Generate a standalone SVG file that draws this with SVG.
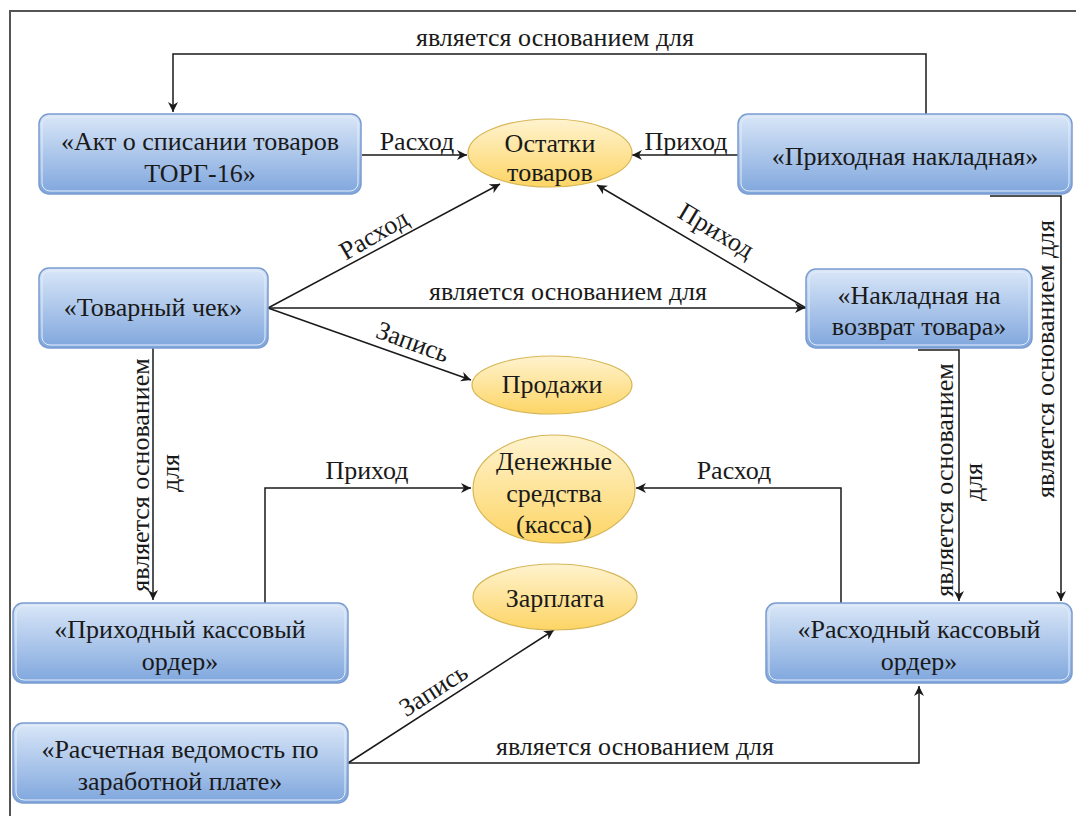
<svg xmlns="http://www.w3.org/2000/svg" width="1076" height="816" viewBox="0 0 1076 816">
<style>
.bo{fill:url(#bg);stroke:#7a9cd0;stroke-width:1.5}
.bi{fill:none;stroke:#e4edf9;stroke-width:1}
.el{fill:url(#yg);stroke:#d6b656;stroke-width:1.2}
.cn{stroke:#1a1a1a;stroke-width:1.5;fill:none}
</style>
<defs>
<linearGradient id="bg" x1="0" y1="0" x2="0" y2="1">
<stop offset="0" stop-color="#dae7f8"/>
<stop offset="1" stop-color="#7fa6dd"/>
</linearGradient>
<linearGradient id="yg" x1="0" y1="0" x2="0" y2="1">
<stop offset="0" stop-color="#fff3cf"/>
<stop offset="1" stop-color="#fdd565"/>
</linearGradient>
<marker id="a" viewBox="0 0 10 10" refX="10" refY="5" markerWidth="10" markerHeight="10" markerUnits="userSpaceOnUse" orient="auto">
<path d="M0,0 L10,5 L0,10 L3,5 Z" fill="#1a1a1a"/>
</marker>
</defs>
<rect width="1076" height="816" fill="#fff"/>
<path d="M10,816 V11 H1076" fill="none" stroke="#555" stroke-width="2"/>

<g id="connectors">
<g class="cn">
<path d="M926,114 V54 H173 V112" marker-end="url(#a)"/>
<path d="M362,155 H467" marker-end="url(#a)"/>
<path d="M738,155 H632" marker-end="url(#a)"/>
<path d="M268,308 L500,184" marker-end="url(#a)"/>
<path d="M268,308 H805" marker-end="url(#a)"/>
<path d="M268,308 L471,380" marker-end="url(#a)"/>
<path d="M806,308 L597,185" marker-end="url(#a)"/>
<path d="M153,348 V600" marker-end="url(#a)"/>
<path d="M990,196 H1061 V601" marker-end="url(#a)"/>
<path d="M918,350 H959 V601" marker-end="url(#a)"/>
<path d="M265,603 V488 H471" marker-end="url(#a)"/>
<path d="M841,603 V488 H636" marker-end="url(#a)"/>
<path d="M348,763 L554,630" marker-end="url(#a)"/>
<path d="M348,763 H919 V686" marker-end="url(#a)"/>
</g>
<g fill="#1a1a1a" text-anchor="middle">
<text font-family="Liberation Serif, serif" font-size="26" x="555" y="46">является основанием для</text>
<text font-family="Liberation Serif, serif" font-size="26" x="417" y="150">Расход</text>
<text font-family="Liberation Serif, serif" font-size="26" x="686" y="150">Приход</text>
<text font-family="Liberation Serif, serif" font-size="26" x="568" y="300">является основанием для</text>
<text font-family="Liberation Serif, serif" font-size="26" transform="translate(378,242) rotate(-30)">Расход</text>
<text font-family="Liberation Serif, serif" font-size="26" transform="translate(712,238) rotate(31)">Приход</text>
<text font-family="Liberation Serif, serif" font-size="26" transform="translate(410,350) rotate(20)">Запись</text>
<text font-family="Liberation Serif, serif" font-size="26" x="367" y="479">Приход</text>
<text font-family="Liberation Serif, serif" font-size="26" x="734" y="479">Расход</text>
<text font-family="Liberation Serif, serif" font-size="26" transform="translate(438,697) rotate(-33)">Запись</text>
<text font-family="Liberation Serif, serif" font-size="26" x="635" y="755">является основанием для</text>
<text font-family="Liberation Serif, serif" font-size="26" transform="translate(149,475) rotate(-90)">является основанием</text>
<text font-family="Liberation Serif, serif" font-size="26" transform="translate(179,473) rotate(-90)">для</text>
<text font-family="Liberation Serif, serif" font-size="26" transform="translate(953,480) rotate(-90)">является основанием</text>
<text font-family="Liberation Serif, serif" font-size="26" transform="translate(982,482) rotate(-90)">для</text>
<text font-family="Liberation Serif, serif" font-size="26" transform="translate(1054,359) rotate(-90)">является основанием для</text>
</g>
</g>

<g id="akt" text-anchor="middle" fill="#1a1a1a">
<rect class="bo" x="39" y="114" width="322" height="80" rx="10"/>
<rect class="bi" x="42" y="117" width="316" height="74" rx="8"/>
<text font-family="Liberation Serif, serif" font-size="26" x="200" y="150">«Акт о списании товаров</text>
<text font-family="Liberation Serif, serif" font-size="26" x="200" y="182">ТОРГ-16»</text>
</g>
<g id="prihodnaya" text-anchor="middle" fill="#1a1a1a">
<rect class="bo" x="738" y="114" width="334" height="80" rx="10"/>
<rect class="bi" x="741" y="117" width="328" height="74" rx="8"/>
<text font-family="Liberation Serif, serif" font-size="26" x="905" y="165">«Приходная накладная»</text>
</g>
<g id="tovarny" text-anchor="middle" fill="#1a1a1a">
<rect class="bo" x="39" y="268" width="229" height="80" rx="10"/>
<rect class="bi" x="42" y="271" width="223" height="74" rx="8"/>
<text font-family="Liberation Serif, serif" font-size="26" x="153" y="316">«Товарный чек»</text>
</g>
<g id="vozvrat" text-anchor="middle" fill="#1a1a1a">
<rect class="bo" x="806" y="269" width="226" height="79" rx="10"/>
<rect class="bi" x="809" y="272" width="220" height="73" rx="8"/>
<text font-family="Liberation Serif, serif" font-size="26" x="919" y="304">«Накладная на</text>
<text font-family="Liberation Serif, serif" font-size="26" x="919" y="335">возврат товара»</text>
</g>
<g id="pko" text-anchor="middle" fill="#1a1a1a">
<rect class="bo" x="13" y="603" width="335" height="80" rx="10"/>
<rect class="bi" x="16" y="606" width="329" height="74" rx="8"/>
<text font-family="Liberation Serif, serif" font-size="26" x="180" y="638">«Приходный кассовый</text>
<text font-family="Liberation Serif, serif" font-size="26" x="180" y="670">ордер»</text>
</g>
<g id="rko" text-anchor="middle" fill="#1a1a1a">
<rect class="bo" x="766" y="603" width="306" height="80" rx="10"/>
<rect class="bi" x="769" y="606" width="300" height="74" rx="8"/>
<text font-family="Liberation Serif, serif" font-size="26" x="919" y="638">«Расходный кассовый</text>
<text font-family="Liberation Serif, serif" font-size="26" x="919" y="670">ордер»</text>
</g>
<g id="vedomost" text-anchor="middle" fill="#1a1a1a">
<rect class="bo" x="13" y="723" width="335" height="80" rx="10"/>
<rect class="bi" x="16" y="726" width="329" height="74" rx="8"/>
<text font-family="Liberation Serif, serif" font-size="26" x="180" y="758">«Расчетная ведомость по</text>
<text font-family="Liberation Serif, serif" font-size="26" x="180" y="790">заработной плате»</text>
</g>

<g id="ostatki" text-anchor="middle" fill="#1a1a1a">
<ellipse class="el" cx="550" cy="153" rx="82" ry="34"/>
<text font-family="Liberation Serif, serif" font-size="26" x="550" y="152">Остатки</text>
<text font-family="Liberation Serif, serif" font-size="26" x="550" y="181">товаров</text>
</g>
<g id="prodazhi" text-anchor="middle" fill="#1a1a1a">
<ellipse class="el" cx="552" cy="385" rx="80" ry="29"/>
<text font-family="Liberation Serif, serif" font-size="26" x="552" y="393">Продажи</text>
</g>
<g id="dengi" text-anchor="middle" fill="#1a1a1a">
<ellipse class="el" cx="554" cy="489" rx="81" ry="54"/>
<text font-family="Liberation Serif, serif" font-size="26" x="554" y="470">Денежные</text>
<text font-family="Liberation Serif, serif" font-size="26" x="554" y="502">средства</text>
<text font-family="Liberation Serif, serif" font-size="26" x="554" y="533">(касса)</text>
</g>
<g id="zarplata" text-anchor="middle" fill="#1a1a1a">
<ellipse class="el" cx="555" cy="597" rx="82" ry="33"/>
<text font-family="Liberation Serif, serif" font-size="26" x="555" y="607">Зарплата</text>
</g>
</svg>
